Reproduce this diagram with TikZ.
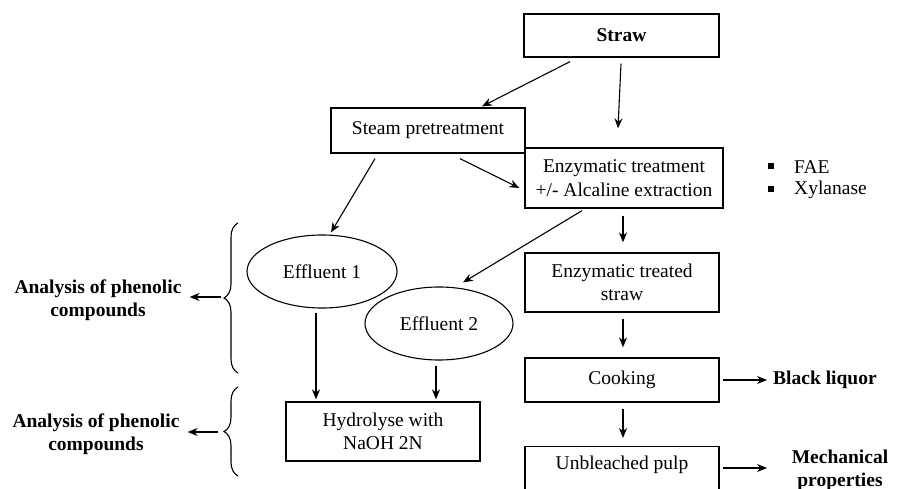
\documentclass[tikz,border=0pt]{standalone}
\usepackage{fontspec}
\setmainfont{Liberation Serif}
\usetikzlibrary{arrows.meta,calc,decorations.pathreplacing,shapes.geometric}
\begin{document}
\begin{tikzpicture}[x=1pt,y=-1pt,
  every node/.style={font=\fontsize{19.5}{23.5}\selectfont},
  box/.style={draw,line width=1.3pt,inner sep=0pt,align=center},
  ell/.style={draw,ellipse,line width=1.1pt,inner sep=0pt},
  arr/.style={line width=1.1pt,-{Stealth[length=10pt,width=8pt]}},
  lbl/.style={align=center,inner sep=0pt,font=\fontsize{19.5}{23}\selectfont\bfseries},
  bul/.style={fill=black,inner sep=0pt,minimum size=6pt},
  brc/.style={line width=1.1pt,decorate,decoration={brace,amplitude=14pt}}]
\clip (0,0) rectangle (897,489);
% boxes
\node[box,minimum width=195pt,minimum height=43pt] (straw) at (621.5,35.5) {\bfseries Straw};
\node[box,minimum width=194pt,minimum height=45pt] (steam) at (428,130.5) {Steam pretreatment};
\node[box,minimum width=198pt,minimum height=60pt] (enz) at (624,178) {Enzymatic treatment\\+/- Alcaline extraction};
\node[box,minimum width=194pt,minimum height=59pt] (ets) at (622,282.5) {Enzymatic treated\\straw};
\node[box,minimum width=194pt,minimum height=44pt] (cook) at (622,380) {Cooking};
\node[box,minimum width=194pt,minimum height=60pt,anchor=north] (unb) at (622,446) {};
\node (unbt) at (622,465) {Unbleached pulp};
\node[box,minimum width=194pt,minimum height=59pt] (hyd) at (383,431.5) {Hydrolyse with\\NaOH 2N};
\node[ell,minimum width=150pt,minimum height=73pt] (eff1) at (322,271.5) {Effluent 1};
\node[ell,minimum width=148pt,minimum height=73pt] (eff2) at (439,323.5) {Effluent 2};
% side labels
\node[bul] (b1) at (771,166) {};
\node[bul] (b2) at (771,189) {};
\node[anchor=west,inner sep=0pt] (fae) at (794,167) {FAE};
\node[anchor=west,inner sep=0pt] (xyl) at (794,190) {Xylanase};
\node[lbl,anchor=west] (black) at (773,380) {Black liquor};
\node[lbl] (mech) at (840,470) {Mechanical\\properties};
\node[lbl] (an1) at (98,300) {Analysis of phenolic\\compounds};
\node[lbl] (an2) at (96,434) {Analysis of phenolic\\compounds};
% braces
\draw[brc] (238,373) -- (238,223);
\draw[brc] (238,476) -- (238,387);
\coordinate (t1) at (221,297);
\coordinate (t2) at (218,432);
% connectors
\draw[arr] ([xshift=-51.5pt,yshift=-4pt]straw.south) -- ([xshift=54pt,yshift=1pt]steam.north);
\draw[arr] ([xshift=-0.5pt,yshift=-6pt]straw.south) -- ([xshift=-6pt,yshift=19pt]enz.north);
\draw[arr] ([xshift=-53pt,yshift=-5pt]steam.south) -- ([xshift=9pt,yshift=2pt]eff1.north);
\draw[arr] ([xshift=32pt,yshift=-5pt]steam.south) -- ([xshift=-5pt,yshift=-10pt]enz.west);
\draw[arr] ([xshift=-42pt,yshift=-2pt]enz.south) -- ([xshift=24pt,yshift=4pt]eff2.north);
\draw[arr] ([xshift=-1pt,yshift=-7pt]enz.south) -- ([xshift=1pt,yshift=10pt]ets.north);
\draw[arr] ([xshift=1pt,yshift=-6pt]ets.south) -- ([xshift=1pt,yshift=10pt]cook.north);
\draw[arr] ([xshift=1pt,yshift=-6pt]cook.south) -- ([xshift=1pt,yshift=8pt]unb.north);
\draw[arr] ([xshift=3pt]cook.east) -- ([xshift=-6pt]black.west);
\draw[arr] ($(unb.east |- unbt)+(3,3)$) -- ($(black.west |- unbt)+(-6,3)$);
\draw[arr] ([xshift=-6pt,yshift=-4pt]eff1.south) -- ([xshift=-67pt,yshift=2pt]hyd.north);
\draw[arr] ([xshift=-3pt,yshift=-5pt]eff2.south) -- ([xshift=53pt,yshift=2pt]hyd.north);
\draw[arr] (t1) -- ([xshift=8pt]an1.east |- t1);
\draw[arr] (t2) -- ([xshift=8pt]an2.east |- t2);
\end{tikzpicture}
\end{document}
